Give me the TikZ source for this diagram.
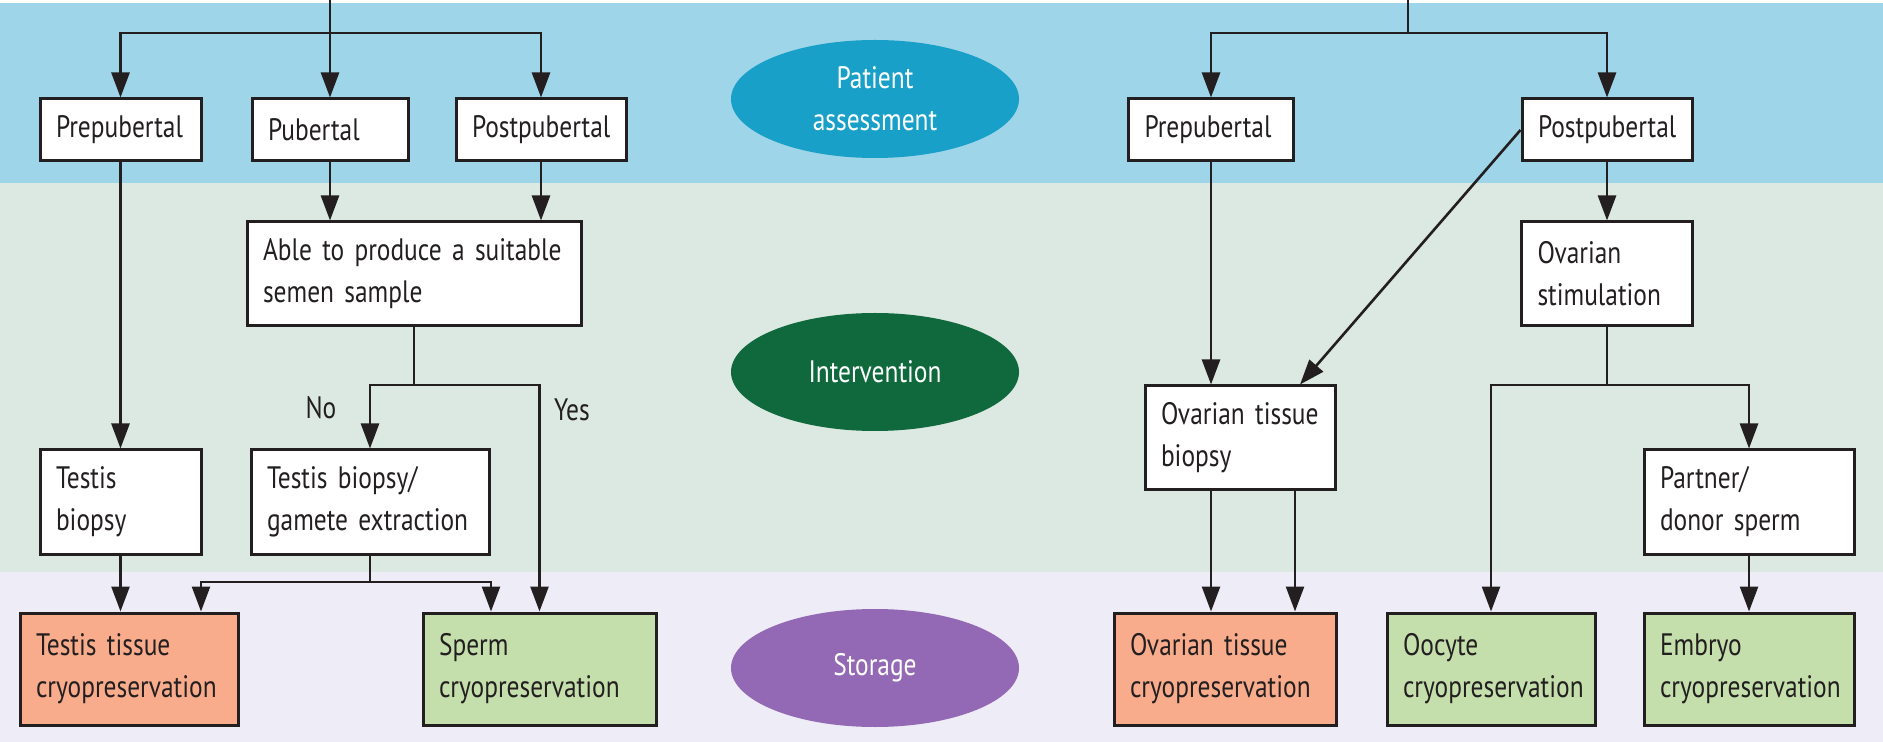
\documentclass[tikz,border=0pt]{standalone}
\usepackage{fontspec}
\newfontfamily\lancet{PT Sans}[FakeStretch=0.82]
\usetikzlibrary{arrows.meta, shapes.geometric, calc}

\definecolor{bandblue}{HTML}{9ED5E8}
\definecolor{bandgreen}{HTML}{DCE8E2}
\definecolor{bandlilac}{HTML}{EEECF6}
\definecolor{phaseblue}{HTML}{19A0C8}
\definecolor{phasegreen}{HTML}{0F693C}
\definecolor{phasepurple}{HTML}{9368B4}
\definecolor{tissuefill}{HTML}{F8AC8C}
\definecolor{gametefill}{HTML}{C5DFAC}
\definecolor{inkdark}{HTML}{231F20}

\begin{document}
\begin{tikzpicture}[x=0.5pt, y=-0.5pt,
    box/.style={draw=inkdark, line width=1.5pt, fill=white, align=left,
        inner xsep=8pt, inner ysep=0pt, text=inkdark,
        font=\lancet\fontsize{15.5}{21}\selectfont},
    onebox/.style={box, minimum height=31pt},
    twobox/.style={box, minimum height=52pt},
    cryobox/.style={box, minimum height=56pt},
    phase/.style={ellipse, minimum width=144pt, minimum height=59pt, inner sep=0pt,
        align=center, text=white, font=\lancet\fontsize{15.5}{21}\selectfont},
    answer/.style={text=inkdark, font=\lancet\fontsize{15.5}{21}\selectfont},
    link/.style={draw=inkdark, line width=1.3pt},
    dlink/.style={link, -{Triangle[length=12.5pt, width=9pt]}} % Directed link style
]

    % Background bands
    \fill[white] (0,0) rectangle (1883,742);
    \fill[bandblue] (0,3) rectangle (1883,183);
    \fill[bandgreen] (0,183) rectangle (1883,572);
    \fill[bandlilac] (0,572) rectangle (1883,742);
    \useasboundingbox (0,0) rectangle (1883,742);

    % Phase labels in the middle column
    \node[phase, fill=phaseblue] (assess) at (875,99) {Patient\\assessment};
    \node[phase, fill=phasegreen] (interv) at (875,372) {Intervention};
    \node[phase, fill=phasepurple] (store) at (875,668) {Storage};

    % Male branch: assessment row
    \node[onebox, text width=64.5pt] (preL) at (120.5,130) {Prepubertal};
    \node[onebox, text width=62pt] (pub) at (330,130) {Pubertal};
    \node[onebox, text width=69pt] (postL) at (541,130) {Postpubertal};

    % Male branch: interventions
    \node[twobox, text width=151pt] (able) at (414,274) {Able to produce a suitable\\semen sample};
    \node[twobox, text width=64.5pt] (tb) at (120.5,502) {Testis\\biopsy};
    \node[twobox, text width=103pt] (gam) at (370,502) {Testis biopsy/\\gamete extraction};
    \node[answer] (no) at (321,408) {No};
    \node[answer] (yes) at (572,410) {Yes};

    % Male branch: storage
    \node[cryobox, fill=tissuefill, text width=93pt] (ttc) at (129,669) {Testis tissue\\cryopreservation};
    \node[cryobox, fill=gametefill, text width=100.5pt] (spc) at (539.5,669) {Sperm\\cryopreservation};

    % Female branch: assessment row
    \node[onebox, text width=66.5pt] (preR) at (1211,130) {Prepubertal};
    \node[onebox, text width=69pt] (postR) at (1607,130) {Postpubertal};

    % Female branch: interventions
    \node[twobox, text width=79pt] (otb) at (1240,438) {Ovarian tissue\\biopsy};
    \node[twobox, text width=69.5pt] (stim) at (1607,274) {Ovarian\\stimulation};
    \node[twobox, text width=89pt] (partner) at (1749,502) {Partner/\\donor sperm};

    % Female branch: storage
    \node[cryobox, fill=tissuefill, text width=95pt] (ocp) at (1225,669) {Ovarian tissue\\cryopreservation};
    \node[cryobox, fill=gametefill, text width=88pt] (ocy) at (1491,669) {Oocyte\\cryopreservation};
    \node[cryobox, fill=gametefill, text width=89pt] (ecp) at (1749,669) {Embryo\\cryopreservation};

    % Male links
    \coordinate (topL) at (330,0);
    \coordinate (forkL) at (330,33);
    \draw[link] (topL) -- (forkL);
    \draw[dlink] (forkL) -| (preL);
    \draw[dlink] (forkL) -- (pub);
    \draw[dlink] (forkL) -| (postL);
    \draw[dlink] (preL) -- (tb);
    \draw[dlink] (pub) -- (pub |- able.north);
    \draw[dlink] (postL) -- (postL |- able.north);

    \coordinate (yesno) at (able.south |- 0,385);
    \draw[link] (able) -- (yesno);
    \draw[dlink] (yesno) -| (gam);
    \draw[dlink] (yesno) -| (spc);

    \coordinate (gamfork) at (gam.south |- 0,582);
    \draw[link] (gam) -- (gamfork);
    \draw[dlink] (gamfork) -| ($(ttc.north)+(72,0)$);
    \draw[dlink] (gamfork) -| ($(spc.north)+(-48.5,0)$);
    \draw[dlink] (tb) -- (tb |- ttc.north);

    % Female links
    \coordinate (topR) at (1408,0);
    \coordinate (forkR) at (1408,33);
    \draw[link] (topR) -- (forkR);
    \draw[dlink] (forkR) -| (preR);
    \draw[dlink] (forkR) -| (postR);
    \draw[dlink] (preR) -- (preR |- otb.north);
    \draw[dlink] (postR.west) -- ($(otb.north)+(60,0)$);
    \draw[dlink] (postR) -- (stim);

    \coordinate (stimfork) at (stim.south |- 0,385);
    \draw[link] (stim) -- (stimfork);
    \draw[dlink] (stimfork) -| (ocy);
    \draw[dlink] (stimfork) -| (partner);
    \draw[dlink] (partner) -- (ecp);

    % Two links from the ovarian tissue biopsy into storage
    \draw[dlink] (otb.south -| preR) -- (preR |- ocp.north);
    \draw[dlink] ($(otb.south)+(55,0)$) -- ($(ocp.north)+(70,0)$);

\end{tikzpicture}
\end{document}
